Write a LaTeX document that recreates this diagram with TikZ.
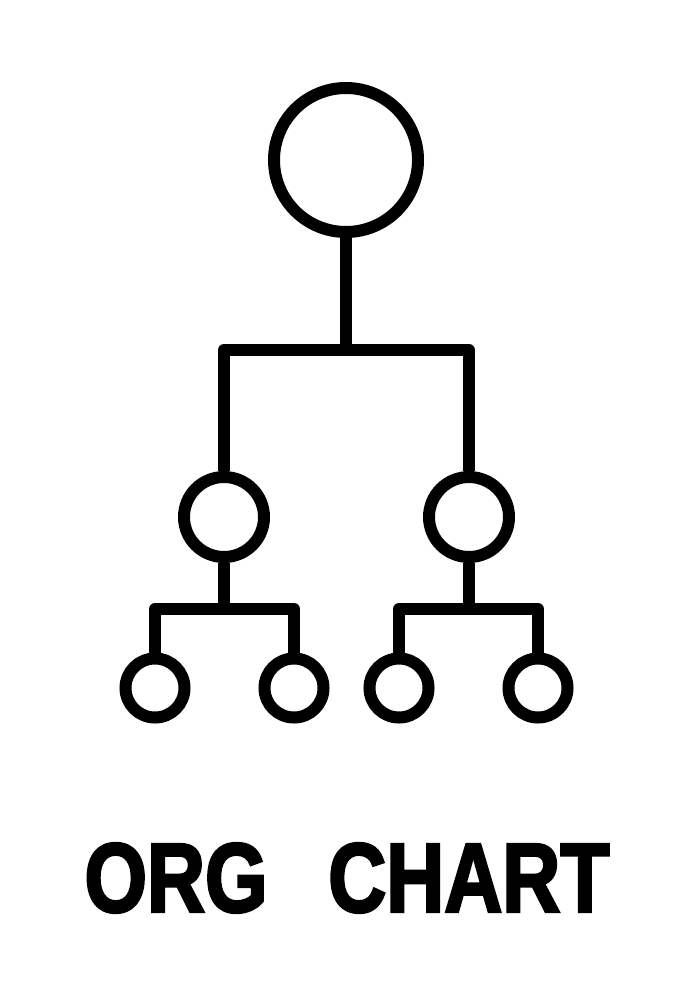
\documentclass[tikz,border=0pt]{standalone}
\usepackage{fontspec}
\setmainfont{Liberation Sans}
\newfontfamily\titlefont[FakeBold=3]{Liberation Sans Bold}
\usetikzlibrary{positioning}

\begin{document}
\begin{tikzpicture}[
    x=0.5pt, y=-0.5pt,
    head/.style={circle, draw, line width=6pt, inner sep=0pt, minimum size=72pt},
    mid/.style={circle, draw, line width=6pt, inner sep=0pt, minimum size=40pt},
    leaf/.style={circle, draw, line width=6pt, inner sep=0pt, minimum size=29.5pt},
    link/.style={line width=6pt, line join=round},
    title/.style={font=\fontsize{49}{55}\titlefont, xscale=0.82, inner sep=0pt}
]
\useasboundingbox (0,0) rectangle (692,1000);

% Circles
\node[head] (top) at (346,160) {};
\node[mid] (midL) at (224,517) {};
\node[mid] (midR) at (469,517) {};
\node[leaf] (leafA) at (155,688) {};
\node[leaf] (leafB) at (294,688) {};
\node[leaf] (leafC) at (399,688) {};
\node[leaf] (leafD) at (538,688) {};

% Branch points
\coordinate (splitTop) at (346,350);
\coordinate (splitL) at (224,609);
\coordinate (splitR) at (469,609);

% Links
\draw[link] (top) -- (splitTop);
\draw[link] (midL) |- (splitTop) -| (midR);
\draw[link] (midL) -- (splitL);
\draw[link] (midR) -- (splitR);
\draw[link] (leafA) |- (splitL) -| (leafB);
\draw[link] (leafC) |- (splitR) -| (leafD);

% Title
\node[title] (label) at (347,878) {ORG\hspace{37pt}CHART};

\end{tikzpicture}
\end{document}
